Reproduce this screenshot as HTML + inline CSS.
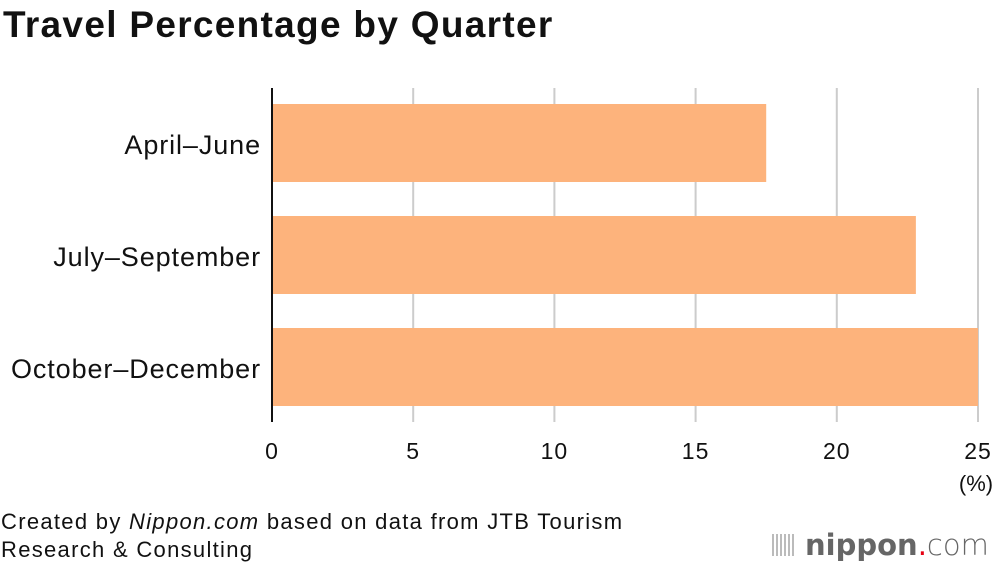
<!DOCTYPE html>
<html><head><meta charset="utf-8"><style>
body{margin:0;width:1000px;height:570px;background:#fff;font-family:"Liberation Sans",sans-serif;overflow:hidden;position:relative}
.t{position:absolute;color:#111}
</style></head><body>
<div class="t" style="left:3px;top:4px;font-size:37px;font-weight:bold;letter-spacing:1.3px;white-space:nowrap">Travel Percentage by Quarter</div>
<svg id="c" width="1000" height="570" style="position:absolute;left:0;top:0"></svg>
<div class="t" style="left:1px;top:508px;font-size:22px;line-height:28px;letter-spacing:1.3px;white-space:nowrap">Created by <i>Nippon.com</i> based on data from JTB Tourism<br>Research &amp; Consulting</div>
<div style="position:absolute;left:772px;top:527px;height:36px;display:flex;align-items:center;white-space:nowrap;font-size:29px;color:#666;font-family:'DejaVu Sans',sans-serif">
<span style="display:inline-block;width:24px;height:22px;margin-right:9px;background:repeating-linear-gradient(90deg,#bbb 0 2px,transparent 2px 4px)"></span><b>nippon</b><span style="color:#e60012">.</span><span style="font-weight:300">com</span></div>
<script>
const categories=["April–June","July–September","October–December"];
const values=[17.5,22.8,25.0];
const ticks=[0,5,10,15,20,25];
const svg=document.getElementById('c');const NS='http://www.w3.org/2000/svg';
const x0=272,x1=978,xmax=25;
const xs=v=>x0+(x1-x0)*v/xmax;
function el(t,a){const e=document.createElementNS(NS,t);for(const k in a)e.setAttribute(k,a[k]);svg.appendChild(e);return e;}
ticks.forEach(t=>{
 if(t>0){const g=el('line',{x1:xs(t),x2:xs(t),y1:88,y2:422,stroke:'#ccc','stroke-width':2});
 
 }
 const l=el('text',{x:xs(t),y:459,'text-anchor':'middle','font-size':23,fill:'#111','letter-spacing':1});
 
 
 l.textContent=t;
});
const u=el('text',{x:976,y:491,'text-anchor':'middle','font-size':22,fill:'#111'});


u.textContent='(%)';
categories.forEach((c,i)=>{
 const y=104+i*112;
 const r=el('rect',{x:x0,y:y,width:xs(values[i])-x0,height:78,fill:'#fdb37c'});
 
 
 const l=el('text',{x:261,y:y+50,'text-anchor':'end','font-size':27,fill:'#111','letter-spacing':0.9});
 
 
 l.textContent=c;
});
const a=el('line',{x1:x0,x2:x0,y1:88,y2:422,stroke:'#111','stroke-width':2});


</script>
</body></html>
